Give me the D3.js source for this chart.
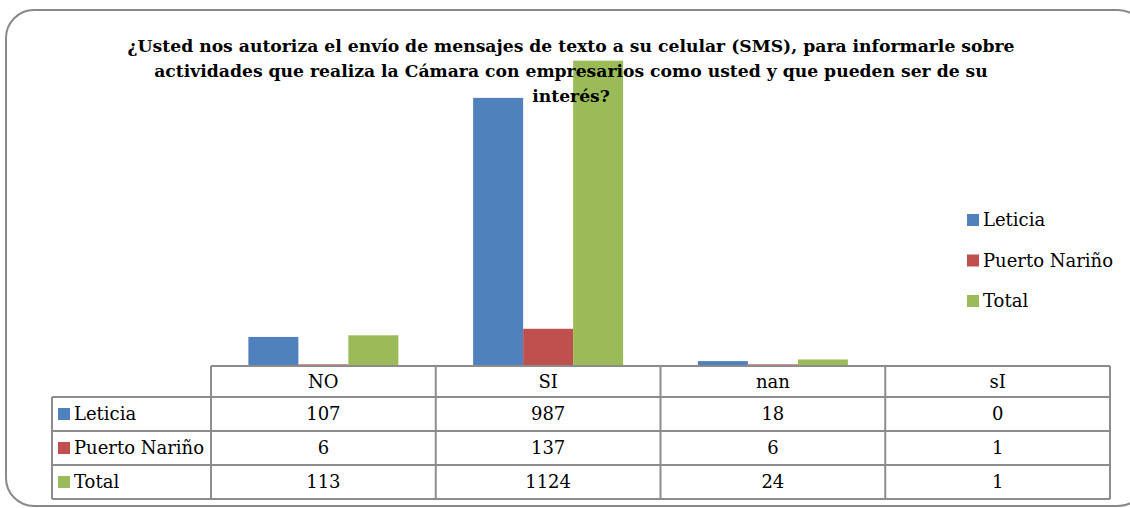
<!DOCTYPE html>
<html>
<head>
<meta charset="utf-8">
<script src="https://cdn.jsdelivr.net/npm/d3@7"></script>
<style>
  body { margin: 0; background: #fff; }
  text { font-family: "DejaVu Serif", "Liberation Serif", serif; fill: #000; }
</style>
</head>
<body>
<script>
'use strict';

// chart data
const categories = ["NO", "SI", "nan", "sI"];
const seriesNames = ["Leticia", "Puerto Nariño", "Total"];
const leticia = [107, 987, 18, 0];
const puertoNarino = [6, 137, 6, 1];
const total = [113, 1124, 24, 1];
const titleLines = [
  "¿Usted nos autoriza el envío de mensajes de texto a su celular (SMS), para informarle sobre",
  "actividades que realiza la Cámara con empresarios como usted y que pueden ser de su",
  "interés?"
];
const colors = ["#4f81bd", "#c0504d", "#9bbb59"];

(function () {
  const width = 1130, height = 508;
  const seriesValues = [leticia, puertoNarino, total];

  const svg = d3.select('body')
    .append('svg')
    .attr('width', width)
    .attr('height', height);

  // outer rounded frame
  svg.append('rect')
    .attr('x', 6)
    .attr('y', 10)
    .attr('width', 1140)
    .attr('height', 496)
    .attr('rx', 28)
    .attr('fill', '#fff')
    .attr('stroke', '#898989')
    .attr('stroke-width', 2);

  // scales
  const tableLeft = 211, tableRight = 1110;
  const baseY = 366;
  const x0 = d3.scaleBand()
    .domain(categories)
    .range([tableLeft, tableRight]);
  const groupW = 150;
  const x1 = d3.scaleBand()
    .domain(seriesNames)
    .range([(x0.bandwidth() - groupW) / 2, (x0.bandwidth() + groupW) / 2]);
  const y = d3.scaleLinear()
    .domain([0, 1200])
    .range([baseY, 40]);

  // bars
  const barData = [];
  categories.forEach((c, i) => {
    seriesNames.forEach((s, j) => {
      barData.push({ cat: c, series: s, value: seriesValues[j][i], color: colors[j] });
    });
  });

  svg.append('g')
    .selectAll('rect')
    .data(barData)
    .enter()
    .append('rect')
    .attr('x', d => x0(d.cat) + x1(d.series))
    .attr('y', d => y(d.value))
    .attr('width', x1.bandwidth())
    .attr('height', d => baseY - y(d.value))
    .attr('fill', d => d.color);

  // title (drawn over the bars)
  svg.append('text')
    .attr('text-anchor', 'middle')
    .style('font-size', '17.2px')
    .style('font-weight', 'bold')
    .selectAll('tspan')
    .data(titleLines)
    .enter()
    .append('tspan')
    .attr('x', 571)
    .attr('y', (d, i) => 52 + i * 25)
    .text(d => d);

  // legend
  const legend = svg.append('g');
  seriesNames.forEach((s, i) => {
    legend.append('rect')
      .attr('x', 967)
      .attr('y', 214 + i * 40.5)
      .attr('width', 12)
      .attr('height', 12)
      .attr('fill', colors[i]);
    legend.append('text')
      .attr('x', 983)
      .attr('y', 220 + i * 40.5)
      .attr('dy', '0.35em')
      .style('font-size', '18px')
      .text(s);
  });

  // data table
  const rowTops = [366, 397, 431, 465, 499];
  const gridColor = '#8c8c8c';
  const table = svg.append('g');

  // header cells text
  categories.forEach(c => {
    table.append('text')
      .attr('x', x0(c) + x0.bandwidth() / 2)
      .attr('y', (rowTops[0] + rowTops[1]) / 2)
      .attr('dy', '0.35em')
      .attr('text-anchor', 'middle')
      .style('font-size', '18px')
      .text(c);
  });

  // rows
  seriesNames.forEach((s, j) => {
    const cy = (rowTops[j + 1] + rowTops[j + 2]) / 2;
    table.append('rect')
      .attr('x', 58)
      .attr('y', cy - 6)
      .attr('width', 12)
      .attr('height', 12)
      .attr('fill', colors[j]);
    table.append('text')
      .attr('x', 74)
      .attr('y', cy)
      .attr('dy', '0.35em')
      .style('font-size', '18px')
      .text(s);
    categories.forEach((c, i) => {
      table.append('text')
        .attr('x', x0(c) + x0.bandwidth() / 2)
        .attr('y', cy)
        .attr('dy', '0.35em')
        .attr('text-anchor', 'middle')
        .style('font-size', '18px')
        .text(seriesValues[j][i]);
    });
  });

  // grid lines
  const line = (x1p, y1p, x2p, y2p) => table.append('line')
    .attr('x1', x1p).attr('y1', y1p).attr('x2', x2p).attr('y2', y2p)
    .attr('stroke', gridColor).attr('stroke-width', 2);

  line(tableLeft, rowTops[0], tableRight, rowTops[0]);
  for (let r = 1; r < rowTops.length; r++) {
    line(52, rowTops[r], tableRight, rowTops[r]);
  }
  line(52, rowTops[1], 52, rowTops[4]);
  x0.domain().forEach(c => line(x0(c), rowTops[0], x0(c), rowTops[4]));
  line(tableRight, rowTops[0], tableRight, rowTops[4]);
})();
</script>
</body>
</html>
